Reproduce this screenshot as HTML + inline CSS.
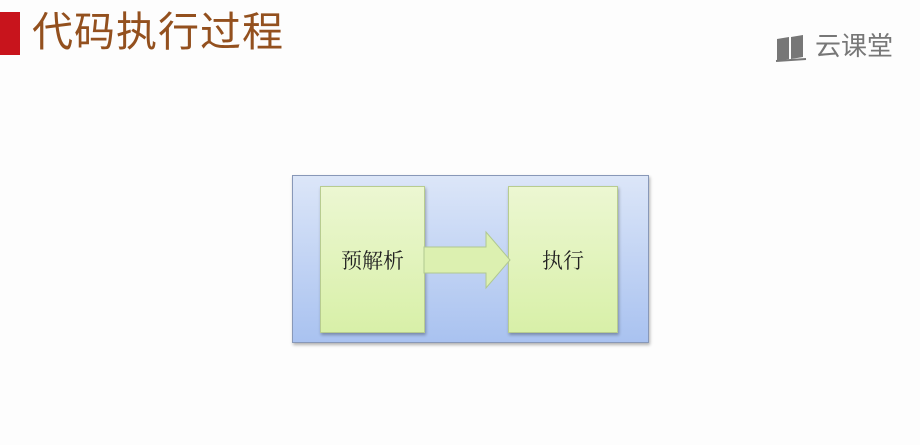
<!DOCTYPE html>
<html><head><meta charset="utf-8"><style>
body{margin:0;width:920px;height:445px;background:#fdfdfd;position:relative;overflow:hidden;font-family:"Liberation Sans","Noto Sans CJK SC",sans-serif}
.bar{position:absolute;left:0;top:12px;width:20px;height:43px;background:#c8141c}
.title{position:absolute;left:32px;top:6px;font-size:41px;color:#93501e;line-height:52px;letter-spacing:1px}
.logo{position:absolute;left:815px;top:29px;font-size:26px;color:#777;line-height:34px}
.outer{position:absolute;left:292px;top:175px;width:355px;height:166px;border:1px solid #8898b8;background:linear-gradient(#dce6f8,#a9c2f0);box-shadow:1px 2px 3px rgba(0,0,0,.3)}
.box{position:absolute;top:186px;height:145px;border:1px solid #b8cc90;background:linear-gradient(#ecf7d2,#d8f0a8);box-shadow:1px 2px 3px rgba(0,0,0,.3);font-size:21px;color:#222;display:flex;align-items:center;justify-content:center;font-family:"Liberation Serif","Noto Serif CJK SC",serif}
</style></head><body>
<div class="bar"></div>
<div class="title">代码执行过程</div>
<svg style="position:absolute;left:775px;top:33px" width="34" height="30"><path d="M2 6 L14 4 L14 26 L2 28Z M16 4 L28 2 L28 24 L16 26Z" fill="#777"/><path d="M1 28 L31 26" stroke="#777" stroke-width="2"/></svg>
<div class="logo">云课堂</div>
<div class="outer"></div>
<div class="box" style="left:320px;width:103px">预解析</div>
<div class="box" style="left:508px;width:108px">执行</div>
<svg style="position:absolute;left:420px;top:228px" width="95" height="66"><path d="M4 19 L66 19 L66 4 L90 32 L66 60 L66 45 L4 45Z" fill="#dcf0b0" stroke="#b0c890" stroke-width="1"/></svg>
</body></html>
